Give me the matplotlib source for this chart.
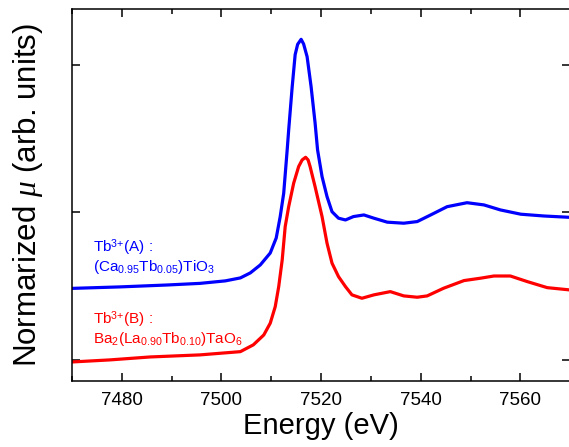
import numpy as np
import matplotlib
matplotlib.use("Agg")
import matplotlib.pyplot as plt
from matplotlib.ticker import MultipleLocator

plt.rcParams['font.family'] = ['Liberation Sans', 'DejaVu Sans']
plt.rcParams['mathtext.fontset'] = 'custom'
plt.rcParams['mathtext.rm'] = 'Liberation Sans'
plt.rcParams['mathtext.it'] = 'Liberation Serif:italic'

# Tb3+(A) : (Ca0.95Tb0.05)TiO3
energy_a = [7470.0, 7479.6, 7489.1, 7495.7, 7500.8, 7503.8, 7505.8, 7507.8, 7509.8,
            7511.0, 7511.8, 7512.5, 7513.2, 7513.5, 7514.2, 7514.8, 7515.3, 7516.0,
            7516.5, 7517.2, 7518.0, 7518.8, 7519.3, 7520.2, 7521.2, 7522.2, 7523.5,
            7524.9, 7526.5, 7528.6, 7530.6, 7533.3, 7536.6, 7539.3, 7542.0, 7545.3,
            7549.3, 7552.7, 7556.0, 7560.1, 7564.7, 7569.8]
mu_a = [0.485, 0.495, 0.508, 0.519, 0.536, 0.556, 0.590, 0.644, 0.725,
        0.827, 0.972, 1.130, 1.424, 1.559, 1.850, 2.070, 2.140, 2.174,
        2.142, 2.056, 1.853, 1.607, 1.424, 1.243, 1.107, 1.005, 0.961,
        0.949, 0.972, 0.983, 0.961, 0.934, 0.927, 0.938, 0.983, 1.039,
        1.066, 1.051, 1.017, 0.988, 0.976, 0.967]

# Tb3+(B) : Ba2(La0.90Tb0.10)TaO6
energy_b = [7470.0, 7477.6, 7485.7, 7495.7, 7503.8, 7506.4, 7508.5, 7509.8, 7510.8,
            7511.5, 7512.2, 7512.8, 7513.5, 7514.5, 7515.5, 7516.2, 7516.9, 7517.4,
            7517.8, 7518.8, 7520.2, 7521.2, 7522.2, 7523.5, 7524.9, 7526.2, 7528.2,
            7530.6, 7533.9, 7536.6, 7539.3, 7541.3, 7544.6, 7548.7, 7552.0, 7554.7,
            7558.0, 7561.4, 7565.4, 7569.8]
mu_b = [-0.014, 0.000, 0.020, 0.034, 0.056, 0.102, 0.169, 0.249, 0.361,
        0.497, 0.678, 0.904, 1.039, 1.198, 1.311, 1.356, 1.374, 1.356,
        1.311, 1.175, 0.972, 0.791, 0.656, 0.565, 0.497, 0.441, 0.418,
        0.441, 0.463, 0.434, 0.425, 0.434, 0.486, 0.538, 0.554, 0.569,
        0.569, 0.531, 0.490, 0.475]

fig = plt.figure(figsize=(5.69, 4.47), dpi=100)
ax = fig.add_axes([0.1265, 0.148, 0.8755, 0.832])

ax.plot(energy_a, mu_a, color='#0000ff', lw=2.3, solid_joinstyle='round')
ax.plot(energy_b, mu_b, color='#ff0000', lw=2.3, solid_joinstyle='round')

ax.text(7474.2, 0.732, r'Tb$^{3{+}}$(A) :', color='#0000ff', fontsize=11, va='baseline')
ax.text(7474.2, 0.600, r'(Ca$_{0.95}$Tb$_{0.05}$)TiO$_3$', color='#0000ff', fontsize=11, va='baseline')
ax.text(7474.2, 0.244, r'Tb$^{3{+}}$(B) :', color='#ff0000', fontsize=11, va='baseline')
ax.text(7474.2, 0.118, r'Ba$_2$(La$_{0.90}$Tb$_{0.10}$)TaO$_6$', color='#ff0000', fontsize=11, va='baseline')

ax.set_xlim(7470, 7570)
ax.set_ylim(-0.142, 2.38)
ax.xaxis.set_major_locator(MultipleLocator(20))
ax.xaxis.set_minor_locator(MultipleLocator(10))
ax.set_yticks([0, 1, 2])
ax.set_yticklabels([])
ax.tick_params(which='both', direction='in', top=True, right=True, width=1.1)
ax.tick_params(which='major', length=6)
ax.tick_params(which='minor', length=3.5)
ax.tick_params(axis='x', labelsize=13.5, pad=8)
for s in ax.spines.values():
    s.set_linewidth(1.1)

ax.set_xlabel('Energy (eV)', fontsize=21, labelpad=2)
ax.set_ylabel(r'Normarized $\mu$ (arb. units)', fontsize=22.5, labelpad=16)

fig.savefig('out.png', dpi=100)
